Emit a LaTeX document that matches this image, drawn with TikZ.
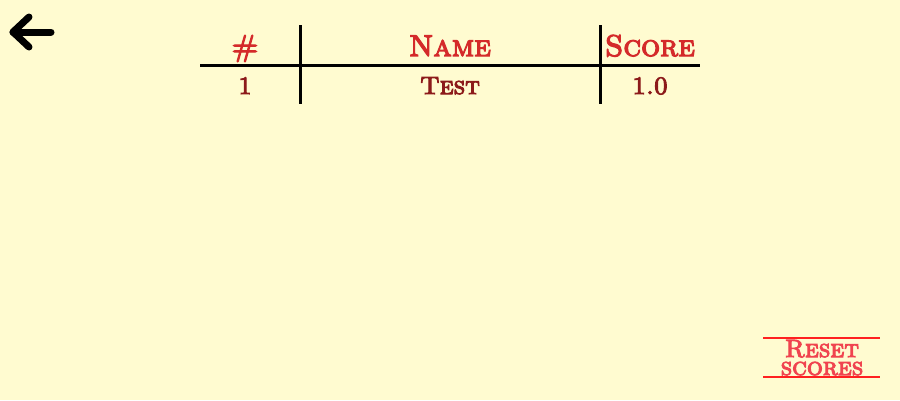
\documentclass[tikz,border=0pt]{standalone}
\usepackage{fontspec}
\usepackage{xcolor}
\usepackage{tikz}
\newfontfamily\capsfont{lmromancaps10-regular.otf}[FakeBold=4]
\definecolor{paper}{HTML}{FFFBD0}
\definecolor{head}{HTML}{D42A2A}
\definecolor{cell}{HTML}{8C1A1A}
\definecolor{reset}{HTML}{F0444F}
\definecolor{rule}{HTML}{FF2020}
\tikzset{
  tableLine/.style={draw=black, line width=3pt},
  backArrow/.style={draw=black, line width=7pt, line cap=round, line join=round},
  headText/.style={text=head, font=\fontsize{30}{30}\selectfont\capsfont, anchor=base, inner sep=0pt},
  cellText/.style={text=cell, font=\fontsize{25}{25}\selectfont\capsfont, anchor=base, inner sep=0pt},
  resetText/.style={text=reset, font=\fontsize{25}{18}\selectfont\capsfont, anchor=base, inner sep=0pt, align=center},
  resetRule/.style={draw=rule, line width=2pt}
}

\begin{document}
\begin{tikzpicture}[x=1pt,y=-1pt]
  \fill[paper] (0,0) rectangle (900,400);
  \useasboundingbox (0,0) rectangle (900,400);

  % back arrow
  \coordinate (tip) at (13,32);
  \coordinate (tail) at (51,32);
  \coordinate (armT) at (29,17);
  \coordinate (armB) at (29,47);
  \draw[backArrow] (armT)--(tip)--(armB);
  \draw[backArrow] (tip)--(tail);

  % table rules
  \coordinate (hL) at (200,65);
  \coordinate (hR) at (700,65);
  \coordinate (v1T) at (300,25);
  \coordinate (v1B) at (300,104);
  \coordinate (v2T) at (600,25);
  \coordinate (v2B) at (600,104);
  \draw[tableLine] (hL)--(hR);
  \draw[tableLine] (v1T)--(v1B);
  \draw[tableLine] (v2T)--(v2B);

  \node[headText] (hNum) at (245,56) {\#};
  \node[headText] (hName) at (450,56) {Name};
  \node[headText] (hScore) at (650,56) {Score};

  \node[cellText] (cNum) at (245,94) {1};
  \node[cellText] (cName) at (450,94) {Test};
  \node[cellText] (cScore) at (650,94) {1.0};

  % reset button
  \coordinate (rTL) at (763,338);
  \coordinate (rTR) at (880,338);
  \coordinate (rBL) at (763,377);
  \coordinate (rBR) at (880,377);
  \draw[resetRule] (rTL)--(rTR);
  \draw[resetRule] (rBL)--(rBR);
  \node[resetText] (resetBtn) at (822,375) {Reset\\scores};
\end{tikzpicture}
\end{document}
